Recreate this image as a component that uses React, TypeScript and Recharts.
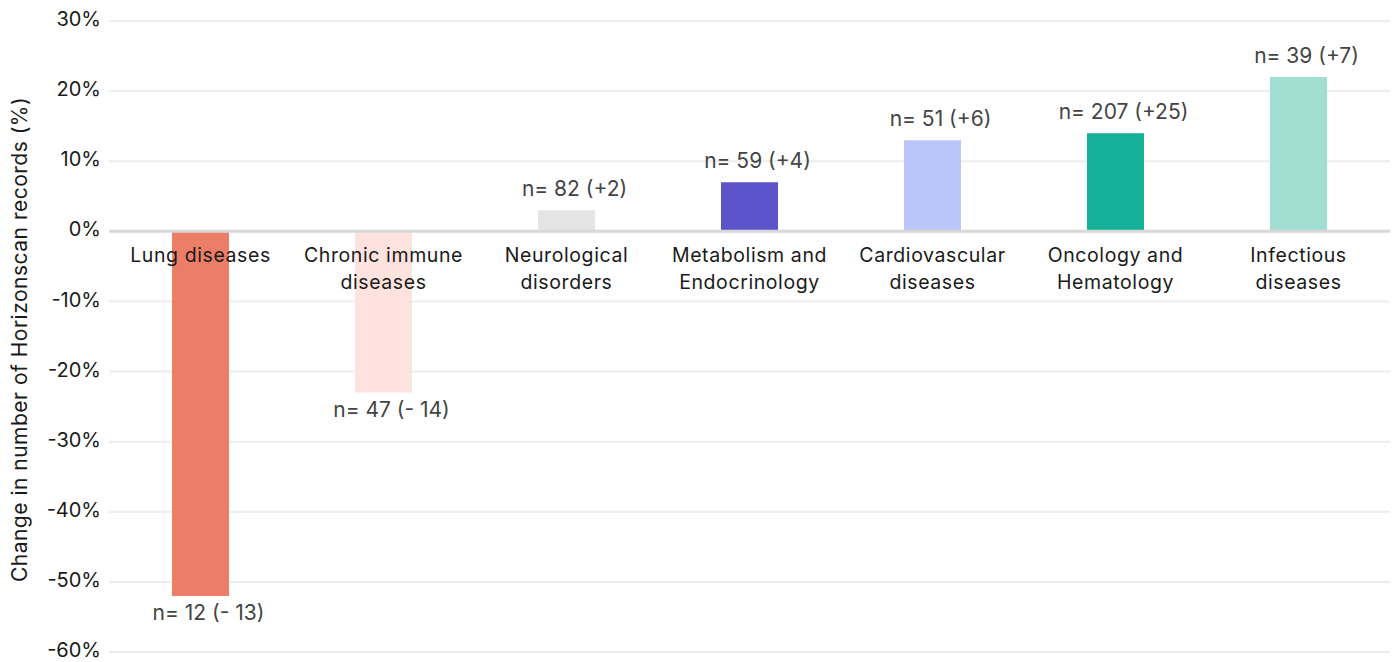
import { BarChart, Bar, XAxis, YAxis, CartesianGrid, ReferenceLine, Cell, LabelList } from 'recharts'

const categories = [
  'Lung diseases',
  'Chronic immune\ndiseases',
  'Neurological\ndisorders',
  'Metabolism and\nEndocrinology',
  'Cardiovascular\ndiseases',
  'Oncology and\nHematology',
  'Infectious\ndiseases',
]
const changePct = [-52, -23, 3, 7, 13, 14, 22]
const counts = ['n= 12 (- 13)', 'n= 47 (- 14)', 'n= 82 (+2)', 'n= 59 (+4)', 'n= 51 (+6)', 'n= 207 (+25)', 'n= 39 (+7)']
const colors = ['#ec7d66', '#fee2de', '#e4e4e4', '#5b54cb', '#bac6fa', '#16b199', '#a0dfd2']
const yTicks = [-60, -50, -40, -30, -20, -10, 0, 10, 20, 30]
const yTitle = 'Change in number of Horizonscan records (%)'

const data = categories.map((c, i) => ({ name: c, value: changePct[i], n: counts[i] }))

const FONT = 'Inter, "Noto Sans", sans-serif'

function box(p: any) {
  const vb = p.viewBox ?? p
  const y = Number(vb.y)
  const h = Number(vb.height)
  return { x: Number(vb.x), w: Number(vb.width), top: Math.min(y, y + h), bottom: Math.max(y, y + h) }
}

function CountLabel(p: any) {
  const { x, w, top, bottom } = box(p)
  const d = data[p.index]
  const neg = d.value < 0
  return (
    <text x={x + w / 2 + 8} y={neg ? bottom + 24 : top - 14} textAnchor="middle" fill="#444" fontSize={21} fontFamily={FONT}>
      {d.n}
    </text>
  )
}

function CategoryLabel(p: any) {
  const { x, w, top, bottom } = box(p)
  const d = data[p.index]
  const zero = d.value < 0 ? top : bottom
  const lines = d.name.split('\n')
  return (
    <text x={x + w / 2} y={zero + 31} textAnchor="middle" fill="#1a1a1a" fontSize={19.5} letterSpacing={0.6} fontFamily={FONT}>
      {lines.map((l, i) => (
        <tspan key={i} x={x + w / 2} dy={i === 0 ? 0 : 27}>{l}</tspan>
      ))}
    </text>
  )
}

function YTick(p: any) {
  return (
    <text x={p.x} y={p.y - 2} dy="0.355em" textAnchor="end" fill="#1a1a1a" fontSize={20} fontFamily={FONT}>
      {`${p.payload.value}%`}
    </text>
  )
}

function YTitle(p: any) {
  const vb = p.viewBox
  const cy = vb.y + vb.height / 2 + 3
  return (
    <text x={27} y={cy} transform={`rotate(-90 27 ${cy})`} textAnchor="middle" fill="#1a1a1a" fontSize={21} letterSpacing={0.5} fontFamily={FONT}>
      {yTitle}
    </text>
  )
}

export default function App() {
  return (
    <div style={{ width: 1397, height: 662 }}>
      <style>{`body{margin:0}`}</style>
      <BarChart width={1397} height={662} data={data} margin={{ top: 21, right: 7, bottom: 10, left: 0 }}>
        <CartesianGrid vertical={false} stroke="#ededed" strokeWidth={2} />
        <XAxis dataKey="name" hide />
        <YAxis
          domain={[-60, 30]}
          ticks={yTicks}
          interval={0}
          width={109}
          axisLine={false}
          tickLine={false}
          tickSize={0}
          tickMargin={8}
          tick={<YTick />}
          label={<YTitle />}
        />
        <ReferenceLine y={0} stroke="#d8d8d8" strokeWidth={3} />
        <Bar dataKey="value" barSize={57} isAnimationActive={false}>
          {data.map((d, i) => (
            <Cell key={d.name} fill={colors[i]} />
          ))}
          <LabelList dataKey="n" content={CountLabel} />
          <LabelList dataKey="name" content={CategoryLabel} />
        </Bar>
      </BarChart>
    </div>
  )
}
